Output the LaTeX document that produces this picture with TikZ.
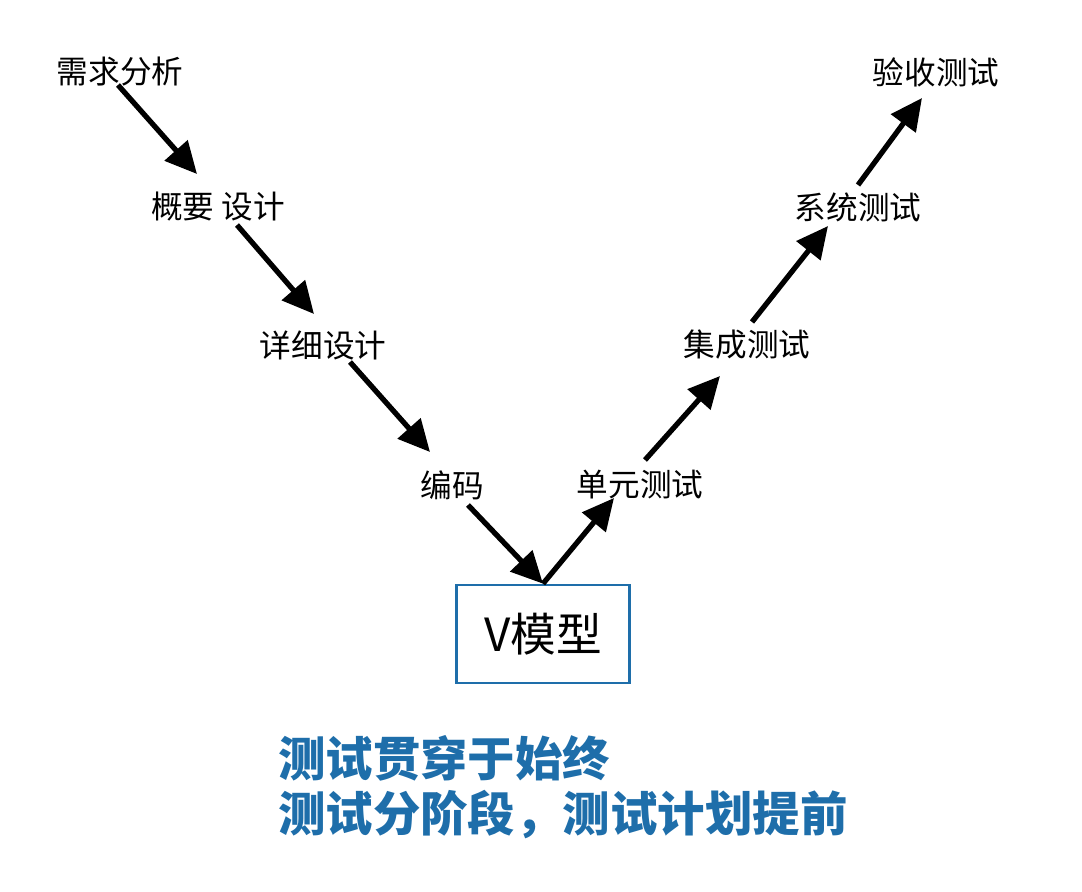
\documentclass[tikz,border=0pt]{standalone}
\usepackage{fontspec}
\setmainfont{Noto Sans CJK SC}
\usepackage{tikz}
\usetikzlibrary{arrows.meta}
\definecolor{vblue}{RGB}{30,110,170}
\begin{document}
\begin{tikzpicture}[x=0.02cm,y=-0.02cm,
    stage/.style={font=\fontsize{18}{20}\selectfont},
    vlink/.style={line width=3pt,-{Triangle[length=18pt,width=17pt]}},
    note/.style={font=\fontsize{27}{32}\selectfont\bfseries,text=vblue,anchor=west}]
        \useasboundingbox (0,0) rectangle (1082,892);
        % stages
        \node[stage] (req) at (120,72) {需求分析};
        \node[stage] (hld) at (218,207) {概要 设计};
        \node[stage] (lld) at (323,345) {详细设计};
        \node[stage] (code) at (452,485) {编码};
        \node[stage] (unit) at (640,485) {单元测试};
        \node[stage] (integ) at (747,345) {集成测试};
        \node[stage] (sys) at (858,207) {系统测试};
        \node[stage] (acc) at (936,72) {验收测试};
        \node[draw=vblue,line width=1.5pt,minimum width=3.46cm,minimum height=1.96cm,
              font=\fontsize{26}{30}\selectfont] (vm) at (543,634) {V模型};
        % arrow ends
        \coordinate (a1) at (118,85);  \coordinate (b1) at (197,174);
        \coordinate (a2) at (237,225); \coordinate (b2) at (314,314);
        \coordinate (a3) at (350,362); \coordinate (b3) at (430,452);
        \coordinate (a4) at (468,505);
        \coordinate (b5) at (614,498);
        \coordinate (a6) at (645,460); \coordinate (b6) at (720,376);
        \coordinate (a7) at (752,322); \coordinate (b7) at (828,226);
        \coordinate (a8) at (858,185); \coordinate (b8) at (922,98);
        \draw[vlink] (a1) -- (b1);
        \draw[vlink] (a2) -- (b2);
        \draw[vlink] (a3) -- (b3);
        \draw[vlink] (a4) -- (vm.north);
        \draw[vlink] (vm.north) -- (b5);
        \draw[vlink] (a6) -- (b6);
        \draw[vlink] (a7) -- (b7);
        \draw[vlink] (a8) -- (b8);
        % notes
        \node[note] (n1) at (272,758) {测试贯穿于始终};
        \node[note] (n2) at (272,815) {测试分阶段，测试计划提前};
\end{tikzpicture}
\end{document}
